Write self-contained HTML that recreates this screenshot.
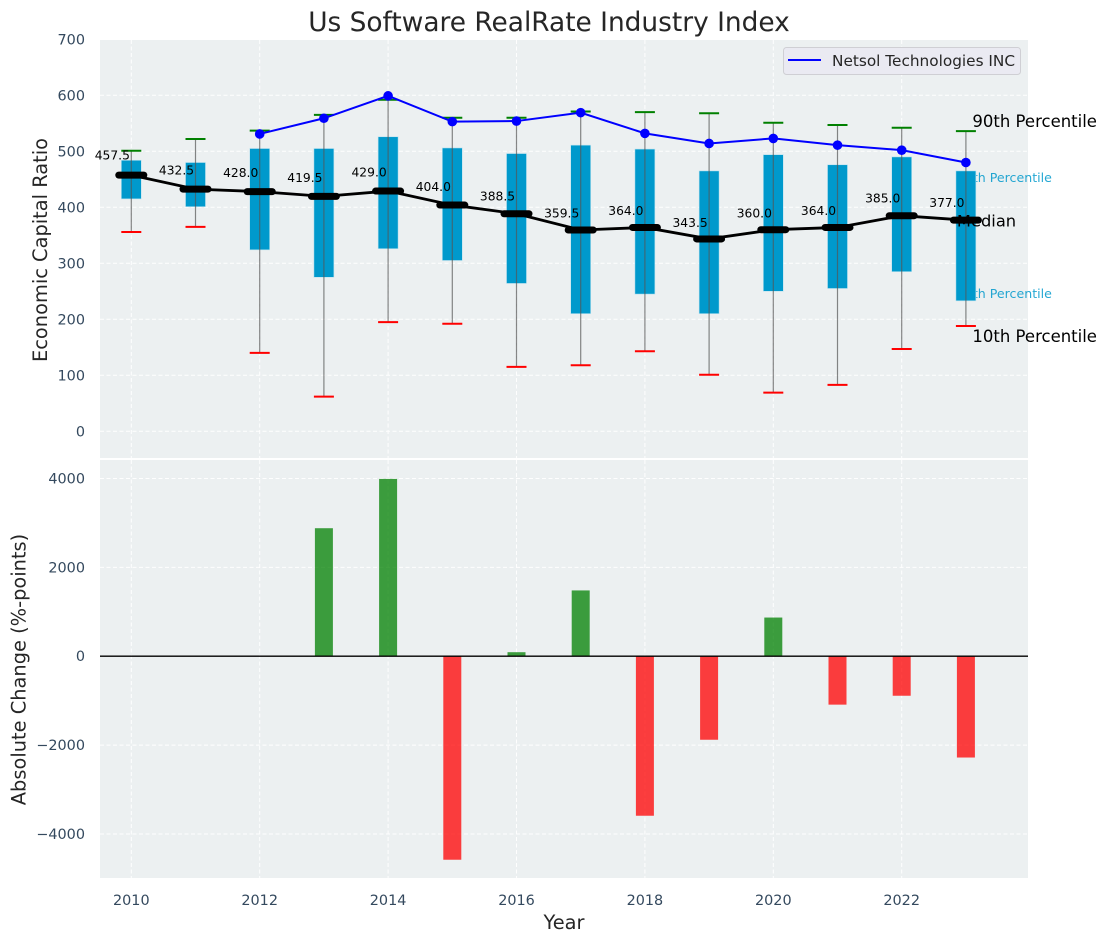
<!DOCTYPE html>
<html>
<head>
<meta charset="utf-8">
<title>Us Software RealRate Industry Index</title>
<style>
html,body{margin:0;padding:0;background:#fff;}
svg{display:block;}
text{font-family:"DejaVu Sans","Liberation Sans",sans-serif;}
</style>
</head>
<body>
<svg id="chart" xmlns="http://www.w3.org/2000/svg" width="1107" height="942" viewBox="0 0 1107 942">
  <rect x="100" y="40" width="928" height="418" fill="#ecf0f1"/>
  <rect x="100" y="460" width="928" height="418" fill="#ecf0f1"/>
  <g id="grid"></g>
  <g id="topMarks"></g>
  <g id="barMarks"></g>
  <g id="ticks"></g>
  <text x="549" y="31" text-anchor="middle" font-size="26.4" fill="#262626">Us Software RealRate Industry Index</text>
  <text transform="translate(47,250) rotate(-90)" text-anchor="middle" font-size="19.4" fill="#262626">Economic Capital Ratio</text>
  <text transform="translate(25.5,669.5) rotate(-90)" text-anchor="middle" font-size="19.4" fill="#262626">Absolute Change (%-points)</text>
  <text x="564" y="929" text-anchor="middle" font-size="19.4" fill="#262626">Year</text>
  <g>
    <rect x="783.5" y="47.5" width="237" height="27" rx="3" fill="#eaeaf2" stroke="#cfcfd4" stroke-width="1"/>
    <line x1="788" y1="60" x2="821" y2="60" stroke="#0000ff" stroke-width="2"/>
    <text x="832" y="66" font-size="15.3" fill="#262626">Netsol Technologies INC</text>
  </g>
</svg>
<script>
var years = [2010,2011,2012,2013,2014,2015,2016,2017,2018,2019,2020,2021,2022,2023];
var p10 = [356,365,140,62,195,192,115,118,143,101,69,83,147,188];
var p25 = [415,401,324,275,326,305,264,210,245,210,250,255,285,233];
var medians = [457.5,432.5,428.0,419.5,429.0,404.0,388.5,359.5,364.0,343.5,360.0,364.0,385.0,377.0];
var p75 = [484,480,505,505,526,506,496,511,504,465,494,476,490,465];
var p90 = [501,522,537,565,592,560,560,571,570,568,551,547,542,536];
var netsol = [null,null,531,559,599,553,554,569,532,514,523,511,502,480];
var changes = [null,null,null,2880,3990,-4580,90,1480,-3590,-1880,870,-1090,-890,-2280];
var topTicks = [0,100,200,300,400,500,600,700];
var bottomTicks = [-4000,-2000,0,2000,4000];
var xTicks = [2010,2012,2014,2016,2018,2020,2022];

var NS = 'http://www.w3.org/2000/svg';
function X(v){ return 131.3 + (v - 2010) * 64.2; }
function Y(v){ return 431.3 - v * 0.56; }
function B(v){ return 656.2 - v * 0.04444; }
function mk(tag, attrs, parent, txt){
  var el = document.createElementNS(NS, tag);
  for (var k in attrs) el.setAttribute(k, attrs[k]);
  if (txt !== undefined) el.textContent = txt;
  parent.appendChild(el);
  return el;
}
var grid = document.getElementById('grid');
var marks = document.getElementById('topMarks');
var barsG = document.getElementById('barMarks');
var ticks = document.getElementById('ticks');
var el, i;
var GRID = {stroke:'#ffffff','stroke-width':1,'stroke-dasharray':'4 2.5',opacity:0.95};
function gridLine(x1,y1,x2,y2){
  var a = {x1:x1,y1:y1,x2:x2,y2:y2};
  for (var k in GRID) a[k] = GRID[k];
  return mk('line', a, grid);
}
topTicks.forEach(function(t){
  el = gridLine(100, Y(t), 1028, Y(t));
  
  
  el = mk('text', {x:85, y:Y(t)+5, 'text-anchor':'end', 'font-size':14.4, fill:'#34495e'}, ticks, String(t));
  
  
});
bottomTicks.forEach(function(t){
  el = gridLine(100, B(t), 1028, B(t));
  
  
  el = mk('text', {x:85, y:B(t)+5, 'text-anchor':'end', 'font-size':14.4, fill:'#34495e'}, ticks, String(t).replace('-', '\u2212'));
  
  
});
xTicks.forEach(function(t){
  el = gridLine(X(t), 40, X(t), 458);
  
  
  el = gridLine(X(t), 460, X(t), 878);
  
  
  el = mk('text', {x:X(t), y:905, 'text-anchor':'middle', 'font-size':14.4, fill:'#34495e'}, ticks, String(t));
  
  
});

var last = years.length - 1;
var xLast = X(years[last]);
el = mk('text', {x:xLast+86, y:Y(p75[last])+11, 'text-anchor':'end', 'font-size':12.6, fill:'#0099cc', opacity:0.85}, marks, '75th Percentile');


el = mk('text', {x:xLast+86, y:Y(p25[last])-3, 'text-anchor':'end', 'font-size':12.6, fill:'#0099cc', opacity:0.85}, marks, '25th Percentile');



years.forEach(function(yr, j){
  var x = X(yr);
  el = mk('rect', {x:x-10, y:Y(p75[j]), width:20, height:Y(p25[j])-Y(p75[j]), fill:'#0099cc', stroke:'#bfe3ef', 'stroke-width':0.6}, marks);
  
  
  el = mk('line', {x1:x, y1:Y(p90[j]), x2:x, y2:Y(p10[j]), stroke:'#555555', 'stroke-width':1.2, opacity:0.7}, marks);
  
  
  el = mk('line', {x1:x-10, y1:Y(p90[j]), x2:x+10, y2:Y(p90[j]), stroke:'#008000', 'stroke-width':2}, marks);
  
  
  el = mk('line', {x1:x-10, y1:Y(p10[j]), x2:x+10, y2:Y(p10[j]), stroke:'#ff0000', 'stroke-width':2}, marks);
  
  
});

var netPts = [];
netsol.forEach(function(v, j){ if (v !== null) netPts.push(X(years[j]) + ',' + Y(v)); });
el = mk('polyline', {points:netPts.join(' '), fill:'none', stroke:'#0000ff', 'stroke-width':2}, marks);


netsol.forEach(function(v, j){
  if (v === null) return;
  el = mk('circle', {cx:X(years[j]), cy:Y(v), r:4.8, fill:'#0000ff'}, marks);
  
  
});

var medPts = medians.map(function(v, j){ return X(years[j]) + ',' + Y(v); });
el = mk('polyline', {points:medPts.join(' '), fill:'none', stroke:'#000000', 'stroke-width':2.8}, marks);


medians.forEach(function(v, j){
  var x = X(years[j]);
  el = mk('line', {x1:x-12.5, y1:Y(v), x2:x+12.5, y2:Y(v), stroke:'#000000', 'stroke-width':7, 'stroke-linecap':'round'}, marks);
  
  
  el = mk('text', {x:x-19, y:Y(v * 1.06)-0.3, 'text-anchor':'middle', 'font-size':12.3, fill:'#000000'}, marks, v.toFixed(1));
  
  
});

el = mk('text', {x:xLast+6.5, y:Y(p90[last])-4, 'font-size':16.5, fill:'#000000'}, marks, '90th Percentile');


el = mk('text', {x:xLast-9, y:Y(medians[last])+6.5, 'font-size':16.3, fill:'#000000'}, marks, 'Median');


el = mk('text', {x:xLast+6.5, y:Y(p10[last])+16, 'font-size':16.5, fill:'#000000'}, marks, '10th Percentile');



changes.forEach(function(v, j){
  if (v === null) return;
  var x = X(years[j]);
  var top = Math.min(B(v), B(0));
  el = mk('rect', {x:x-9, y:top, width:18, height:Math.abs(B(v)-B(0)), fill:v >= 0 ? '#008000' : '#ff0000', opacity:0.75}, barsG);
  
  
});
el = mk('line', {x1:100, y1:B(0), x2:1028, y2:B(0), stroke:'#000000', 'stroke-width':1.3}, barsG);


</script>
</body>
</html>
